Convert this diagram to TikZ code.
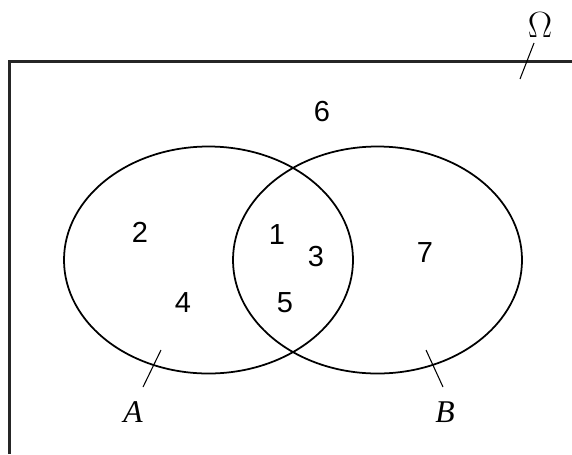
\documentclass[tikz,border=0pt]{standalone}
\usepackage{fontspec}
\setmainfont{Liberation Serif}
\setsansfont{Liberation Sans}
\usepackage{tikz}

\begin{document}
\begin{tikzpicture}[scale=1,
  num/.style={font=\sffamily\fontsize{16.5}{19}\selectfont},
  setname/.style={font=\fontsize{18}{21}\selectfont},
  outline/.style={line width=1pt}]
\useasboundingbox (0,0) rectangle (11.44,9.08);
\draw[line width=1.2pt,black!85] (0.19,0) -- (0.19,7.85) -- (11.44,7.85);
\draw[outline] (4.17,3.88) ellipse (2.89 and 2.27);
\draw[outline] (7.55,3.88) ellipse (2.89 and 2.27);
\node[num] (n6) at (6.44,6.84) {6};
\node[num] (n2) at (2.80,4.44) {2};
\node[num] (n1) at (5.54,4.38) {1};
\node[num] (n3) at (6.32,3.94) {3};
\node[num] (n7) at (8.50,4.02) {7};
\node[num] (n4) at (3.66,3.02) {4};
\node[num] (n5) at (5.70,3.02) {5};
\node[setname] (labA) at (2.66,0.84) {\textit{A}};
\node[setname] (labB) at (8.90,0.84) {\textit{B}};
\node[setname,font=\fontsize{21}{23}\selectfont] (labOmega) at (10.80,8.58) {$\Omega$};
\coordinate (tA1) at (3.22,2.08);
\coordinate (tA2) at (2.86,1.34);
\coordinate (tB1) at (8.52,2.08);
\coordinate (tB2) at (8.86,1.34);
\coordinate (tO1) at (10.68,8.22);
\coordinate (tO2) at (10.40,7.50);
\draw[line width=0.6pt] (tA1) -- (tA2);
\draw[line width=0.6pt] (tB1) -- (tB2);
\draw[line width=0.6pt] (tO1) -- (tO2);
\end{tikzpicture}
\end{document}
